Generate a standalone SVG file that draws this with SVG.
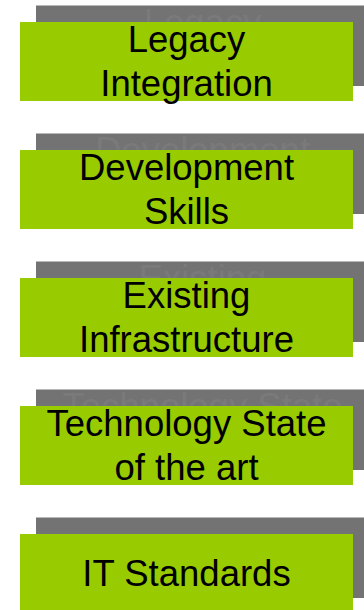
<svg xmlns="http://www.w3.org/2000/svg" width="364" height="610" viewBox="0 0 364 610">
<style>
.sh{fill:#737373;stroke:none}
.shl{stroke:#b8b8b8;stroke-width:1}
.box{fill:#99cc00;stroke:none}
.t{font-family:"Liberation Sans",Arial,sans-serif;font-size:36.5px;fill:#000;text-anchor:middle}
.st{font-family:"Liberation Sans",Arial,sans-serif;font-size:36.5px;fill:#7a7a7a;text-anchor:middle}
</style>
<rect width="364" height="610" fill="#fff"/>
<g id="legacy-integration">
<rect class="sh" x="36" y="5" width="333" height="81"/>
<line class="shl" x1="36" y1="5.5" x2="364" y2="5.5"/>
<text class="st" x="202.5" y="35">Legacy</text>
<rect class="box" x="20" y="22" width="333" height="79"/>
<text class="t" x="186.5" y="52">Legacy</text>
<text class="t" x="186.5" y="96">Integration</text>
</g>
<g id="development-skills">
<rect class="sh" x="36" y="133" width="333" height="81"/>
<line class="shl" x1="36" y1="133.5" x2="364" y2="133.5"/>
<text class="st" x="202.5" y="163">Development</text>
<rect class="box" x="20" y="150" width="333" height="79"/>
<text class="t" x="186.5" y="180">Development</text>
<text class="t" x="186.5" y="224">Skills</text>
</g>
<g id="existing-infrastructure">
<rect class="sh" x="36" y="261" width="333" height="81"/>
<line class="shl" x1="36" y1="261.5" x2="364" y2="261.5"/>
<text class="st" x="202.5" y="291">Existing</text>
<rect class="box" x="20" y="278" width="333" height="79"/>
<text class="t" x="186.5" y="308">Existing</text>
<text class="t" x="186.5" y="352">Infrastructure</text>
</g>
<g id="technology-state">
<rect class="sh" x="36" y="389" width="333" height="81"/>
<line class="shl" x1="36" y1="389.5" x2="364" y2="389.5"/>
<text class="st" x="202.5" y="419">Technology State</text>
<rect class="box" x="20" y="406" width="333" height="79"/>
<text class="t" x="186.5" y="436">Technology State</text>
<text class="t" x="186.5" y="480">of the art</text>
</g>
<g id="it-standards">
<rect class="sh" x="36" y="517" width="333" height="81"/>
<line class="shl" x1="36" y1="517.5" x2="364" y2="517.5"/>
<rect class="box" x="20" y="534" width="333" height="79"/>
<text class="t" x="186.5" y="586">IT Standards</text>
</g>
<g id="connectors"/>
</svg>
